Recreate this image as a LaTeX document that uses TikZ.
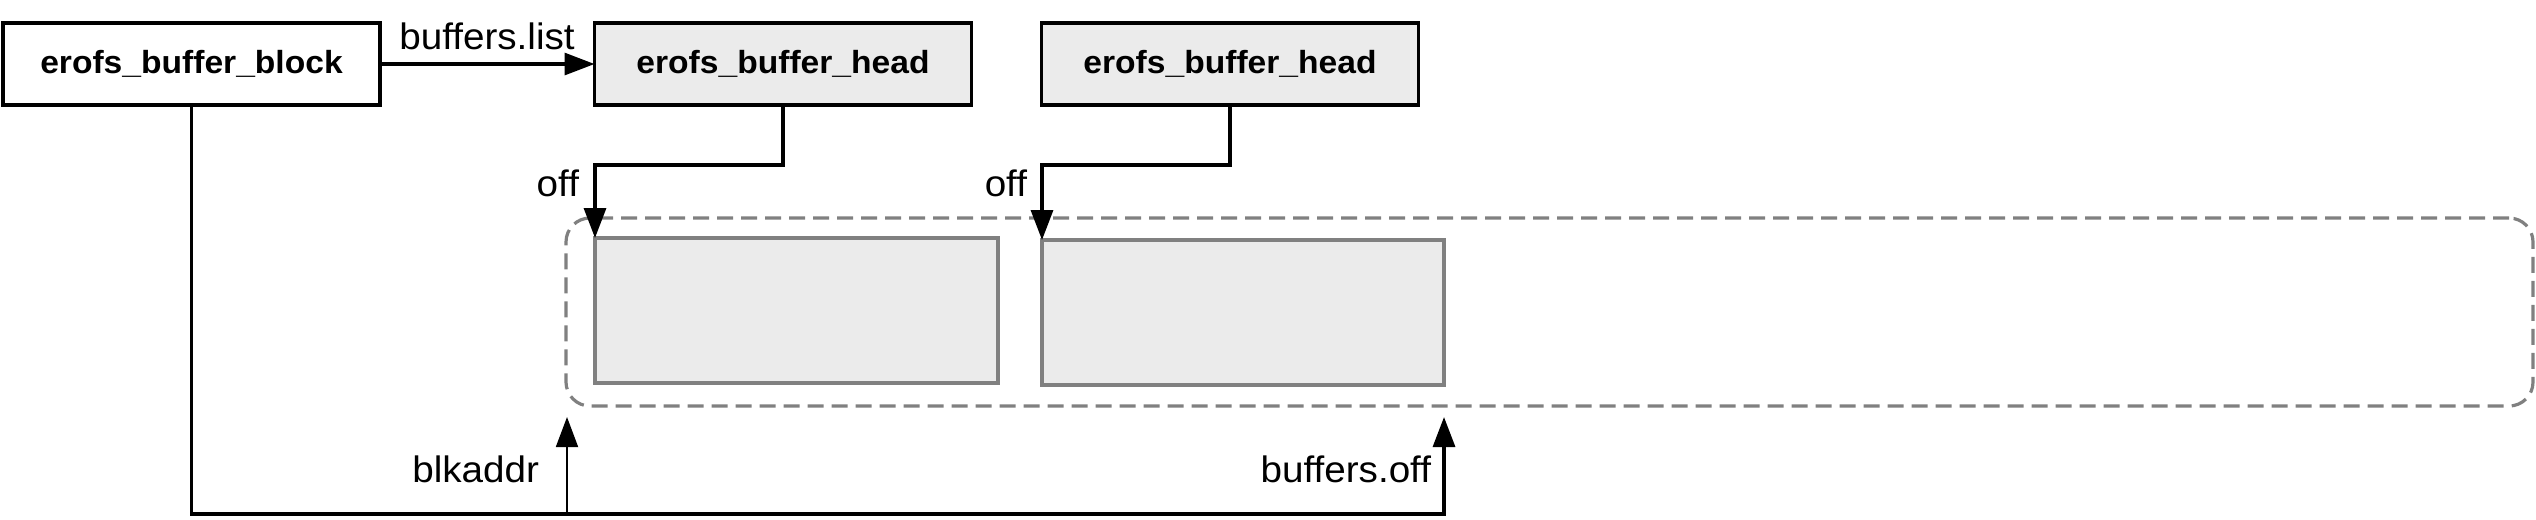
\documentclass[tikz,border=0pt]{standalone}
\usepackage{fontspec}
\setmainfont{Liberation Sans}[FakeStretch=1.05]
\usetikzlibrary{arrows.meta}
\definecolor{boxgray}{HTML}{EBEBEB}
\definecolor{linegray}{HTML}{808080}
\begin{document}
\begin{tikzpicture}[x=0.25pt,y=-0.25pt,
  every node/.style={inner sep=0pt, outer sep=0pt},
  blockbox/.style={draw=black, line width=0.85pt, fill=white, minimum width=94.25pt, minimum height=20.5pt, font=\fontsize{8pt}{9pt}\selectfont\bfseries},
  headbox/.style={blockbox, fill=boxgray},
  membox/.style={draw=linegray, line width=0.8pt, fill=boxgray, minimum height=36.25pt},
  frame/.style={draw=linegray, line width=0.8pt, dash pattern=on 4pt off 2pt, rounded corners=6pt},
  lbl/.style={font=\fontsize{9.2pt}{10pt}\selectfont},
  conn/.style={draw=black, line width=0.8pt},
  tip/.style={-{Triangle[length=7.5pt,width=5.5pt]}}
]
\useasboundingbox (0,0) rectangle (2536,519);
% frame and memory areas
\node[frame, minimum width=491.75pt, minimum height=47pt] (fr) at (1549.5,312) {};
\node[membox, minimum width=100.75pt] (r1) at (796.5,310.5) {};
\node[membox, minimum width=100.5pt] (r2) at (1243,312.5) {};
% boxes
\node[blockbox] (blk) at (191.5,64) {erofs\_buffer\_block};
\node[headbox] (h1) at (783,64) {erofs\_buffer\_head};
\node[headbox] (h2) at (1230,64) {erofs\_buffer\_head};
% coordinates
\coordinate (br) at (1444,514);
\coordinate (bl) at (567,514);
\coordinate (t1) at (567,417);
\coordinate (t2) at (1444,417);
% connectors
\draw[conn, tip] (blk.east) -- (h1.west);
\draw[conn, tip] (h1.south) -- ++(0,60) -| (r1.north west);
\draw[conn, tip] (h2.south) -- ++(0,60) -| (r2.north west);
\draw[conn, tip] (blk.south) |- (br) -- (t2);
\draw[draw=black, line width=0.45pt, tip] (bl) -- (t1);
% labels
\node[lbl, anchor=base] (lblist) at (487,49) {buffers.list};
\node[lbl, anchor=base east] (loff1) at (579,196) {off};
\node[lbl, anchor=base east] (loff2) at (1027,196) {off};
\node[lbl, anchor=base east] (lblk) at (539,482) {blkaddr};
\node[lbl, anchor=base east] (lboff) at (1431,482) {buffers.off};
\end{tikzpicture}
\end{document}
